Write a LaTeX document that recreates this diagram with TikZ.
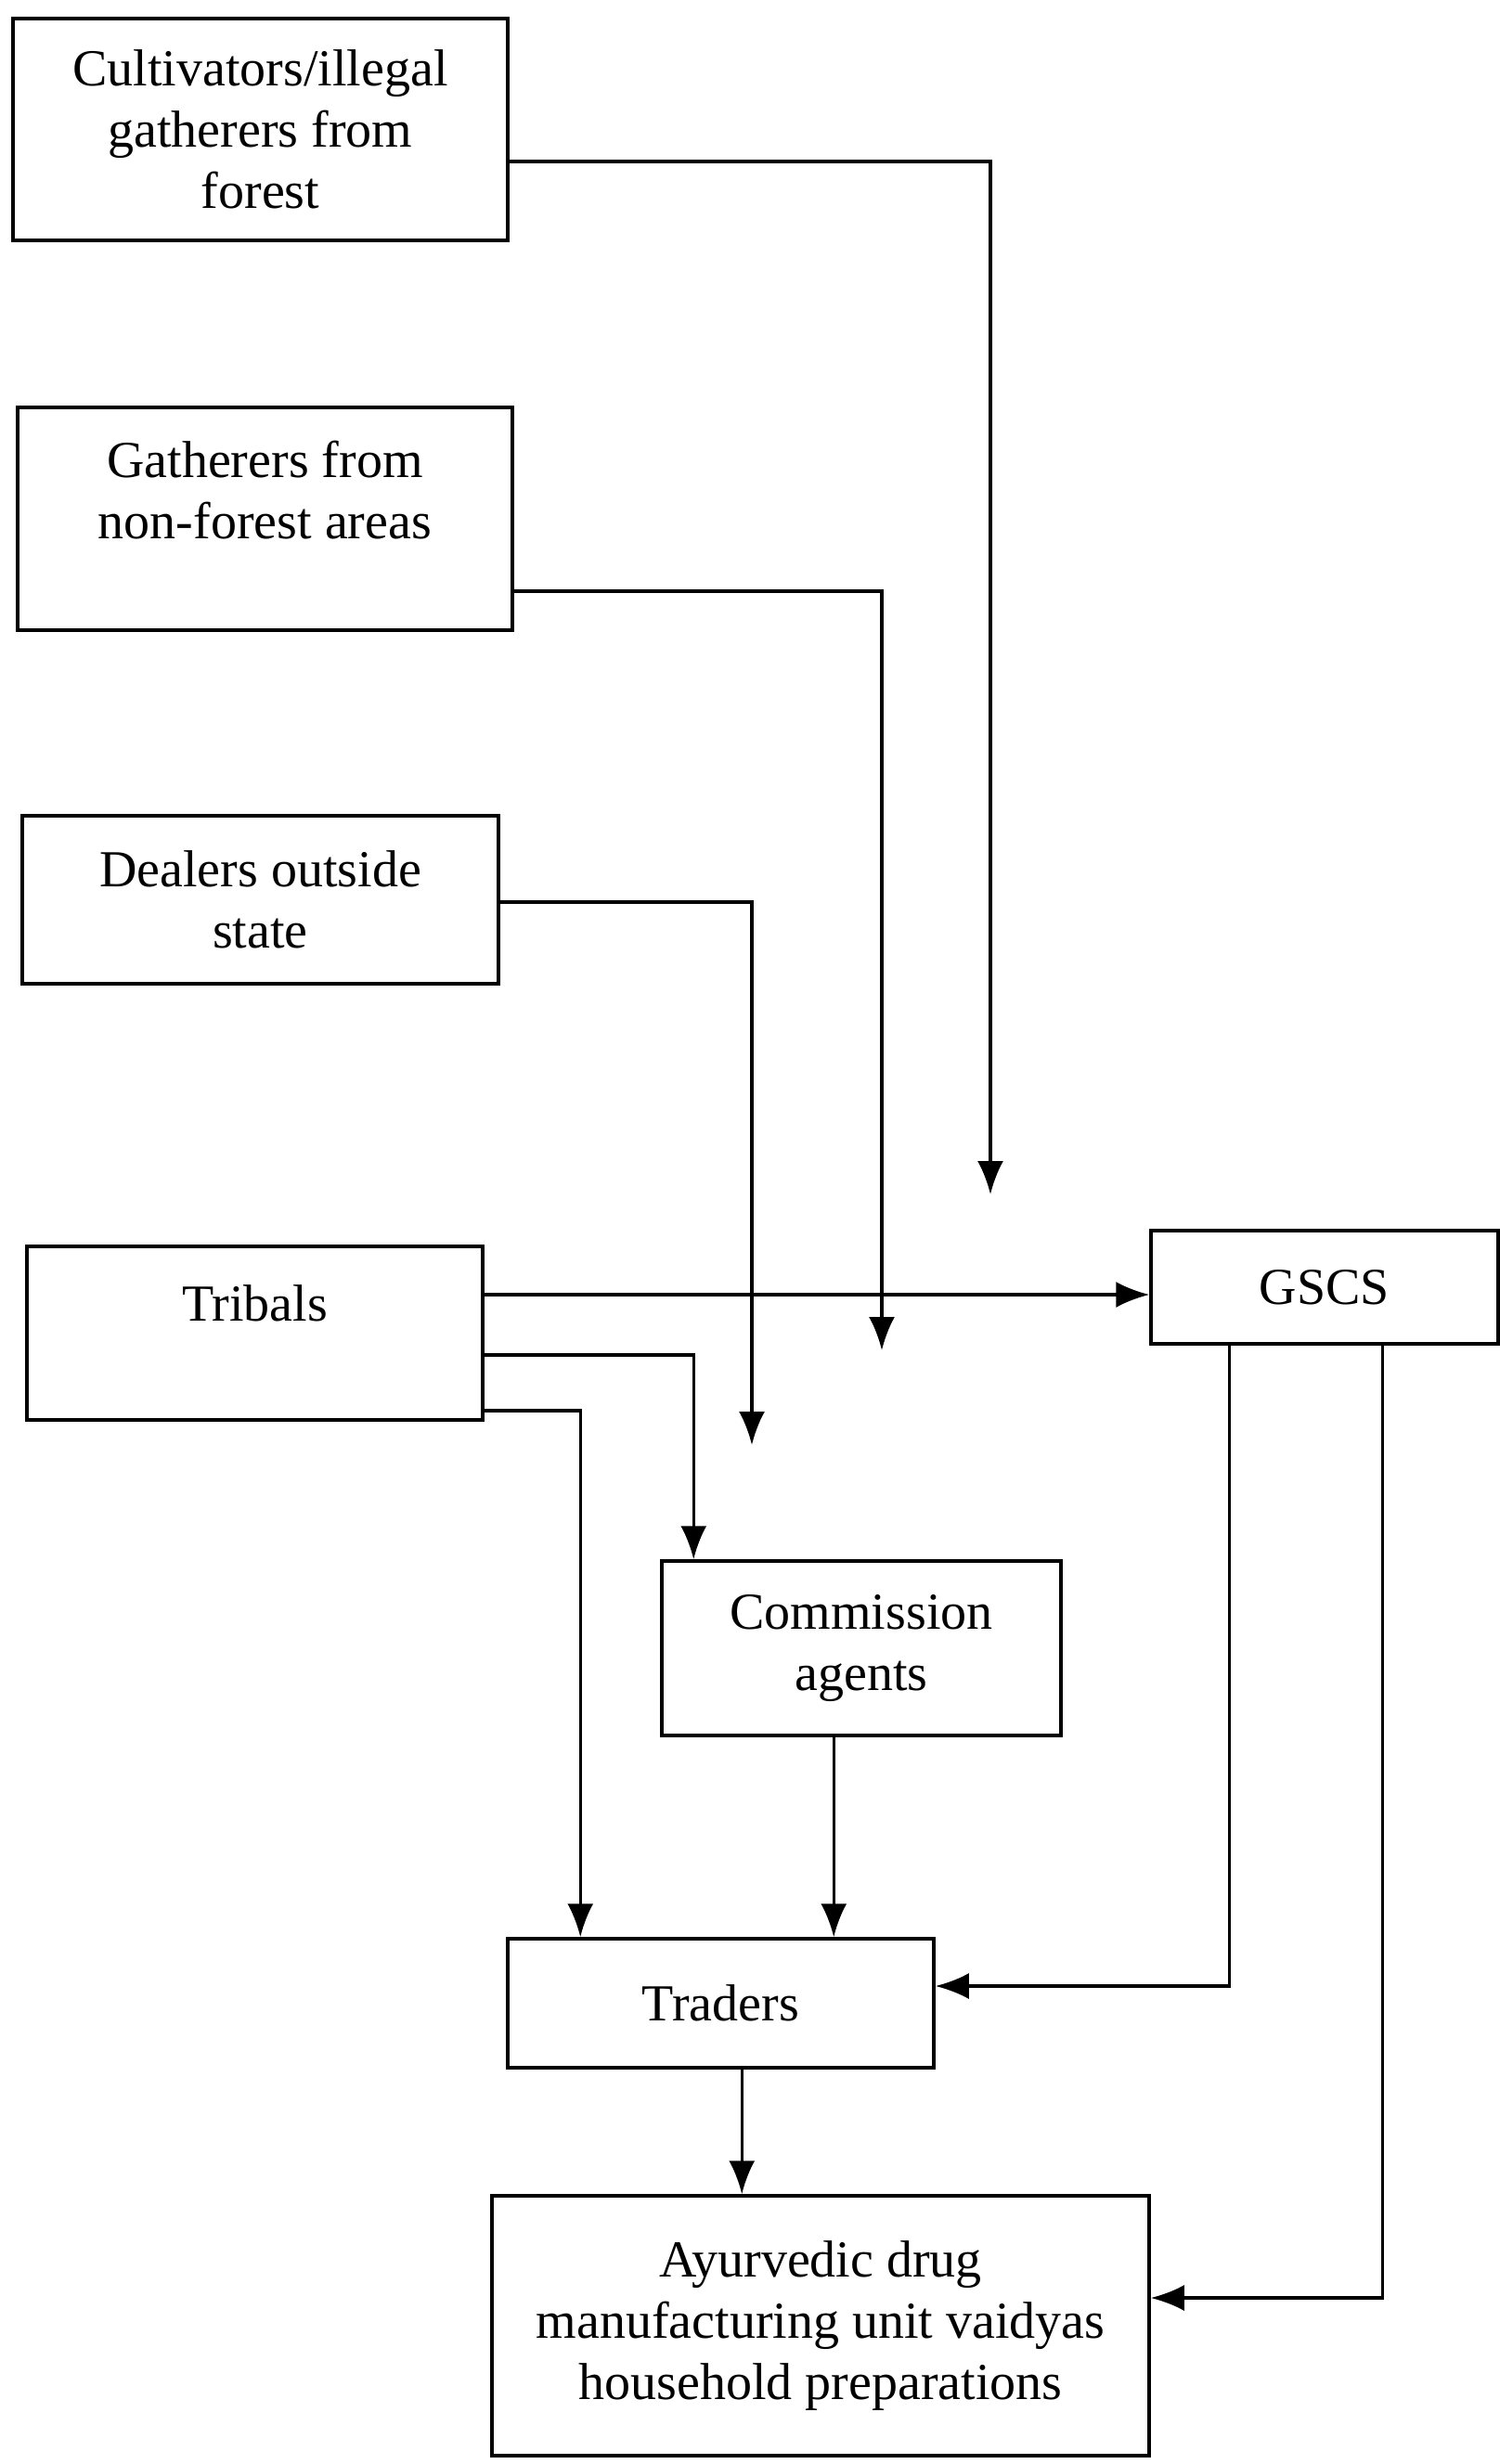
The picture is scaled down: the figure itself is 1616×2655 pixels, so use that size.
\documentclass[tikz,border=0pt]{standalone}
\usepackage{fontspec}
\setmainfont{Liberation Serif}
\usetikzlibrary{arrows.meta}
\begin{document}
\begin{tikzpicture}[x=1pt,y=-1pt,
  box/.style={draw, line width=3.5pt, rectangle, inner sep=0pt, align=center,
    font=\fontsize{56}{66}\selectfont},
  arr/.style={line width=3.5pt, -{Latex[length=36pt,width=28pt]}}]
\useasboundingbox (0,0) rectangle (1616,2655);
\fill[white] (0,0) rectangle (1616,2655);

\node[box, minimum width=533, minimum height=239] (cult) at (280.5,139.5)
  {Cultivators/illegal\\gatherers from\\forest};
\node[box, minimum width=533, minimum height=240,
  label={[font=\fontsize{56}{66}\selectfont, align=center, yshift=31pt]center:Gatherers from\\non-forest areas}] (gath) at (285.5,559) {};
\node[box, minimum width=513, minimum height=181] (deal) at (280.5,969.5)
  {Dealers outside\\state};
\node[box, minimum width=491, minimum height=187,
  label={[font=\fontsize{56}{66}\selectfont, yshift=32pt]center:Tribals}] (trib) at (274.5,1436.5) {};
\node[box, minimum width=374, minimum height=122] (gscs) at (1427,1387) {GSCS};
\node[box, minimum width=430, minimum height=188] (comm) at (928,1776)
  {Commission\\agents};
\node[box, minimum width=459, minimum height=139] (trad) at (776.5,2158.5) {Traders};
\node[box, minimum width=708, minimum height=280] (ayur) at (884,2506)
  {Ayurvedic drug\\manufacturing unit vaidyas\\household preparations};

\coordinate (aEnd) at (1067,1287);
\coordinate (bEnd) at (950,1455);
\coordinate (cEnd) at (810,1557);

\draw[arr] (cult.east |- 0,174) -| (aEnd);
\draw[arr] (gath.east |- 0,637) -| (bEnd);
\draw[arr] (deal.east |- 0,972) -| (cEnd);
\draw[arr] (trib.east |- 0,1395) -- (gscs.west |- 0,1395);
\draw[arr] (trib.east |- 0,1460) -| ([xshift=36pt]comm.north west);
\draw[arr] (trib.east |- 0,1520) -| ([xshift=80pt]trad.north west);
\draw[arr] ([xshift=187pt]comm.south west) -- ([xshift=187pt]comm.south west |- trad.north);
\draw[arr] ([xshift=86pt]gscs.south west) |- (trad.east |- 0,2140);
\draw[arr] ([xshift=251pt]gscs.south west) |- (ayur.east |- 0,2476);
\draw[arr] ([xshift=254pt]trad.south west) -- ([xshift=254pt]trad.south west |- ayur.north);
\end{tikzpicture}
\end{document}
